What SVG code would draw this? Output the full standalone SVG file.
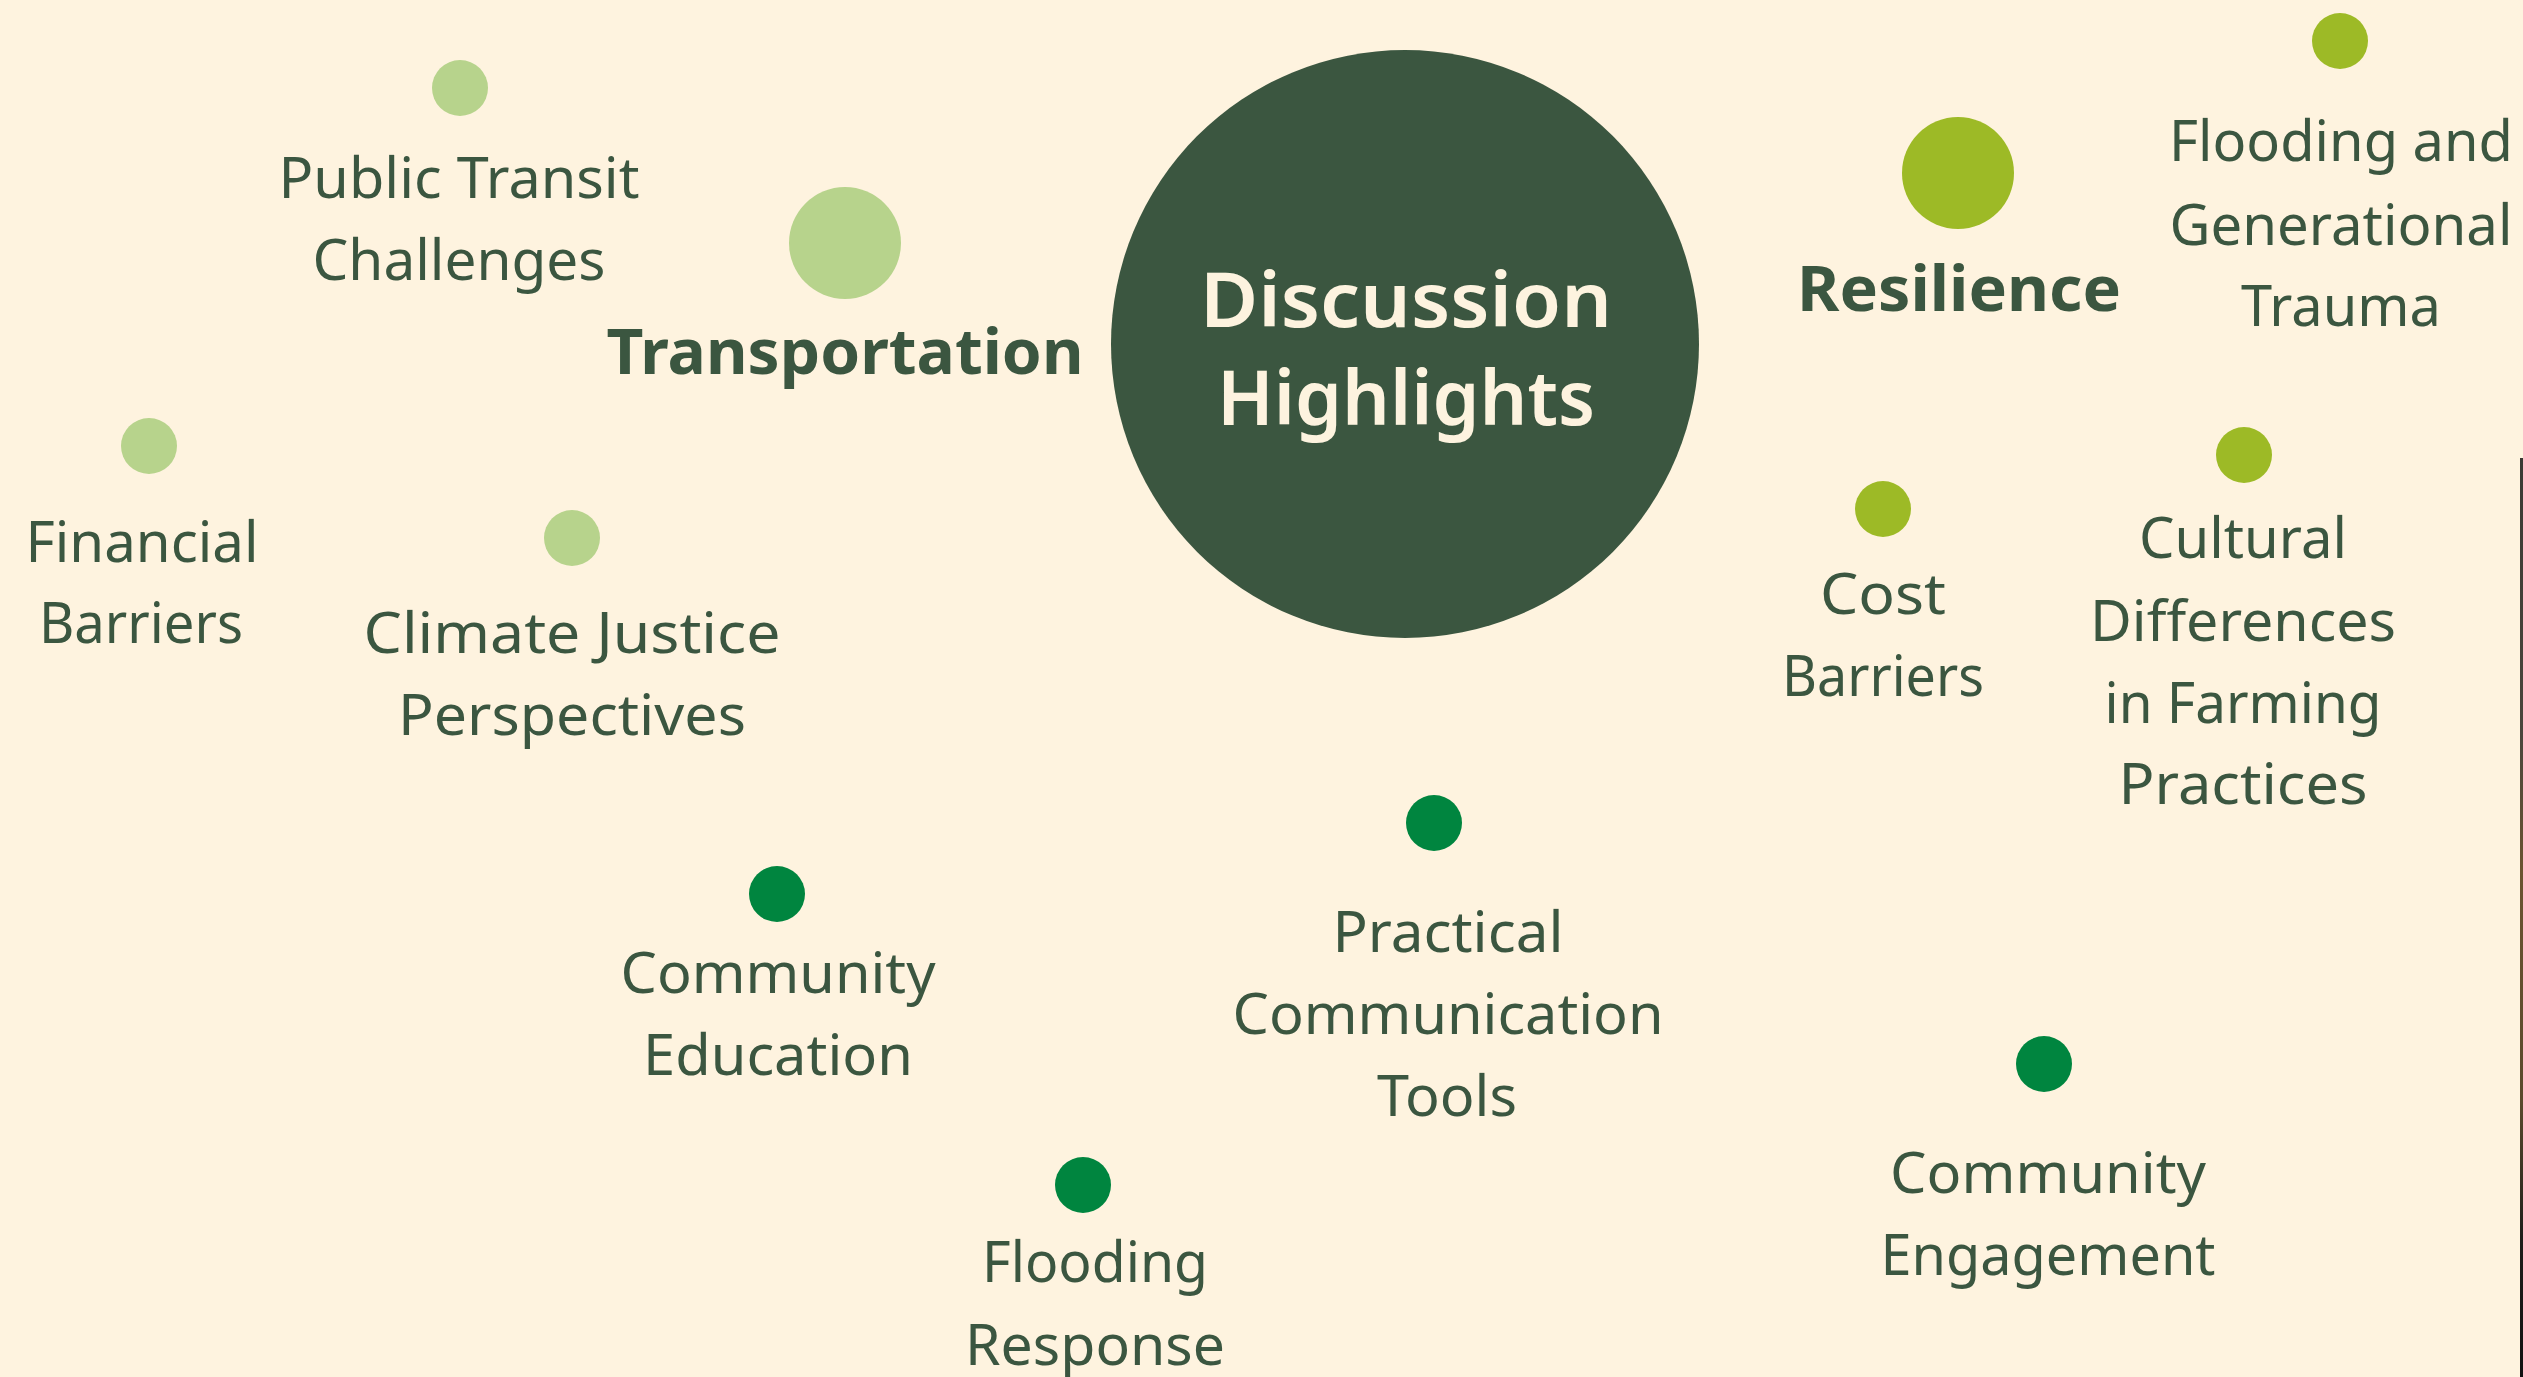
<svg xmlns="http://www.w3.org/2000/svg" width="2523" height="1377" viewBox="0 0 2523 1377">
<defs>
<style>
.t{font-family:"Noto Sans","Open Sans",sans-serif;font-size:57px;fill:#3B5640;text-anchor:middle}
.b{font-family:"Noto Sans","Open Sans",sans-serif;font-size:62px;font-weight:700;fill:#3B5640;text-anchor:middle}
.c{font-family:"Noto Sans","Open Sans",sans-serif;font-size:76px;font-weight:600;fill:#FDF3DF;text-anchor:middle}
.lg{fill:#B7D38C}
.lm{fill:#9DBA26}
.dg{fill:#00853F}
</style>
<linearGradient id="edge" x1="0" y1="0" x2="0" y2="1">
<stop offset="0" stop-color="#3a3a34"/>
<stop offset="0.3" stop-color="#4a463c"/>
<stop offset="0.45" stop-color="#6b5430"/>
<stop offset="0.7" stop-color="#5a4a2c"/>
<stop offset="0.85" stop-color="#1e1e1a"/>
<stop offset="1" stop-color="#111"/>
</linearGradient>
</defs>
<rect width="2523" height="1377" fill="#FEF3DF"/>
<rect x="2520" y="458" width="3" height="919" fill="url(#edge)"/>
<g id="connectors"></g>
<g id="center">
<circle cx="1405" cy="344" r="294" fill="#3B5640"/>
<text class="c" x="1406" y="327" textLength="412" lengthAdjust="spacingAndGlyphs">Discussion</text>
<text class="c" x="1406" y="425" textLength="378" lengthAdjust="spacingAndGlyphs">Highlights</text>
</g>
<g id="transportation">
<circle class="lg" cx="845" cy="243" r="56"/>
<text class="b" x="845" y="374" textLength="477" lengthAdjust="spacingAndGlyphs">Transportation</text>
</g>
<g id="public-transit">
<circle class="lg" cx="460" cy="88" r="28"/>
<text class="t" x="459" y="198" textLength="361" lengthAdjust="spacingAndGlyphs">Public Transit</text>
<text class="t" x="459" y="280" textLength="293" lengthAdjust="spacingAndGlyphs">Challenges</text>
</g>
<g id="financial-barriers">
<circle class="lg" cx="149" cy="446" r="28"/>
<text class="t" x="142" y="562" textLength="233" lengthAdjust="spacingAndGlyphs">Financial</text>
<text class="t" x="141" y="643" textLength="204" lengthAdjust="spacingAndGlyphs">Barriers</text>
</g>
<g id="climate-justice">
<circle class="lg" cx="572" cy="538" r="28"/>
<text class="t" x="572" y="653" textLength="417" lengthAdjust="spacingAndGlyphs">Climate Justice</text>
<text class="t" x="572" y="735" textLength="348" lengthAdjust="spacingAndGlyphs">Perspectives</text>
</g>
<g id="resilience">
<circle class="lm" cx="1958" cy="173" r="56"/>
<text class="b" x="1959" y="311" textLength="324" lengthAdjust="spacingAndGlyphs">Resilience</text>
</g>
<g id="flooding-trauma">
<circle class="lm" cx="2340" cy="41" r="28"/>
<text class="t" x="2341" y="161" textLength="344" lengthAdjust="spacingAndGlyphs">Flooding and</text>
<text class="t" x="2341" y="245" textLength="343" lengthAdjust="spacingAndGlyphs">Generational</text>
<text class="t" x="2341" y="326" textLength="200" lengthAdjust="spacingAndGlyphs">Trauma</text>
</g>
<g id="cost-barriers">
<circle class="lm" cx="1883" cy="509" r="28"/>
<text class="t" x="1883" y="614" textLength="126" lengthAdjust="spacingAndGlyphs">Cost</text>
<text class="t" x="1883" y="696" textLength="202" lengthAdjust="spacingAndGlyphs">Barriers</text>
</g>
<g id="cultural-differences">
<circle class="lm" cx="2244" cy="455" r="28"/>
<text class="t" x="2243" y="558" textLength="208" lengthAdjust="spacingAndGlyphs">Cultural</text>
<text class="t" x="2243" y="641" textLength="306" lengthAdjust="spacingAndGlyphs">Differences</text>
<text class="t" x="2243" y="723" textLength="277" lengthAdjust="spacingAndGlyphs">in Farming</text>
<text class="t" x="2243" y="804" textLength="249" lengthAdjust="spacingAndGlyphs">Practices</text>
</g>
<g id="community-education">
<circle class="dg" cx="777" cy="894" r="28"/>
<text class="t" x="778" y="993" textLength="315" lengthAdjust="spacingAndGlyphs">Community</text>
<text class="t" x="778" y="1075" textLength="270" lengthAdjust="spacingAndGlyphs">Education</text>
</g>
<g id="practical-communication">
<circle class="dg" cx="1434" cy="823" r="28"/>
<text class="t" x="1448" y="952" textLength="231" lengthAdjust="spacingAndGlyphs">Practical</text>
<text class="t" x="1448" y="1034" textLength="431" lengthAdjust="spacingAndGlyphs">Communication</text>
<text class="t" x="1447" y="1116" textLength="140" lengthAdjust="spacingAndGlyphs">Tools</text>
</g>
<g id="community-engagement">
<circle class="dg" cx="2044" cy="1064" r="28"/>
<text class="t" x="2048" y="1193" textLength="316" lengthAdjust="spacingAndGlyphs">Community</text>
<text class="t" x="2048" y="1275" textLength="335" lengthAdjust="spacingAndGlyphs">Engagement</text>
</g>
<g id="flooding-response">
<circle class="dg" cx="1083" cy="1185" r="28"/>
<text class="t" x="1095" y="1282" textLength="226" lengthAdjust="spacingAndGlyphs">Flooding</text>
<text class="t" x="1095" y="1365" textLength="260" lengthAdjust="spacingAndGlyphs">Response</text>
</g>
</svg>
